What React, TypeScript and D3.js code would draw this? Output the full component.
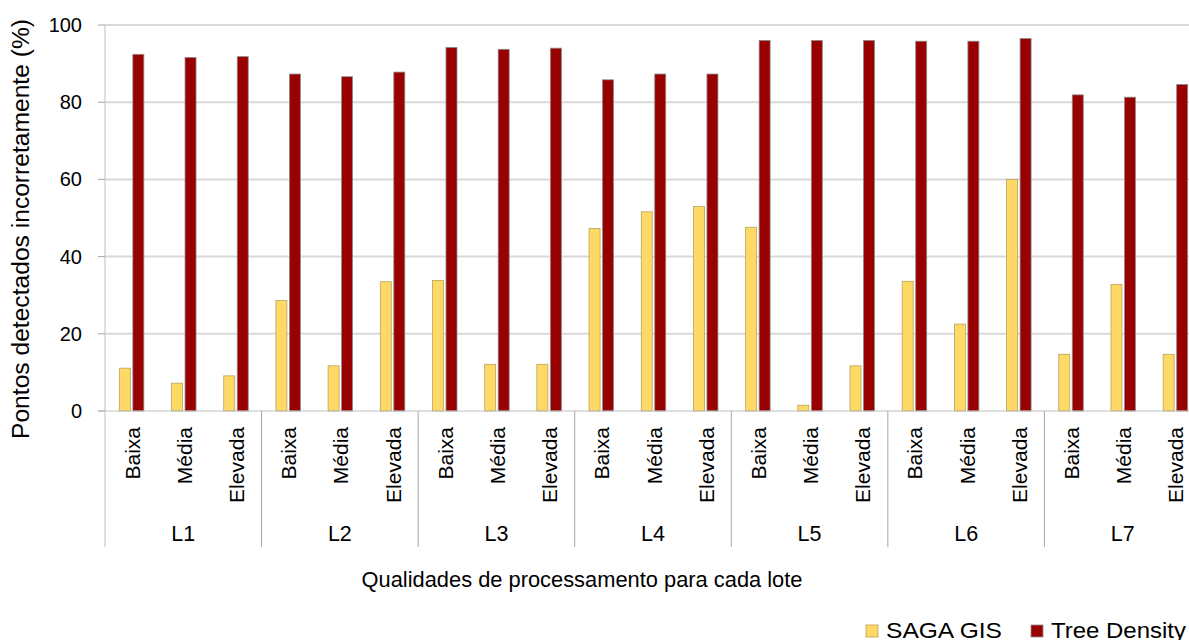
import React from "react";
import * as d3 from "d3";

const lots = ["L1", "L2", "L3", "L4", "L5", "L6", "L7"];
const qualities = ["Baixa", "Média", "Elevada"];
const sagaValues = [11.1, 7.2, 9.1, 28.6, 11.7, 33.5, 33.8, 12.1, 12.1, 47.3, 51.6, 53.0, 47.6, 1.5, 11.7, 33.6, 22.5, 60.0, 14.7, 32.8, 14.7];
const treeValues = [92.4, 91.6, 91.8, 87.3, 86.6, 87.8, 94.2, 93.7, 94.0, 85.8, 87.3, 87.3, 96.0, 96.0, 96.0, 95.8, 95.8, 96.5, 81.9, 81.3, 84.6];
const yTicks = [0, 20, 40, 60, 80, 100];
const seriesNames = ["SAGA GIS", "Tree Density"];
const seriesColors = ["#FFD966", "#990000"];
const seriesStrokes = ["#B9A25A", "#8C8C8C"];

const W = 1189;
const H = 640;
const left = 105;
const right = 1201;
const top = 25;
const bottom = 411;
const FONT = "'Liberation Sans', Arial, sans-serif";

export default function App() {
  const cats = lots.flatMap((l) => qualities.map((q) => `${l}|${q}`));
  const x = d3.scaleBand().domain(cats).range([left, right]).paddingInner(0).paddingOuter(0);
  const xg = d3.scaleBand().domain(lots).range([left, right]);
  const y = d3.scaleLinear().domain([0, 100]).range([bottom, top]);
  const barW = 11;
  const gap = 2.5;
  const data = [sagaValues, treeValues];

  return (
    <svg width={W} height={H} style={{ position: "absolute", left: 0, top: 0, background: "#fff" }} fontFamily={FONT}>
      {/* gridlines */}
      {yTicks.map((t) => (
        <g key={t}>
          {t > 0 && <line x1={left} x2={W} y1={y(t)} y2={y(t)} stroke="#D9D9D9" strokeWidth={2} />}
          <line x1={98} x2={left} y1={y(t)} y2={y(t)} stroke="#A6A6A6" strokeWidth={1} />
          <text x={82} y={y(t)} dy="0.35em" textAnchor="end" fontSize={20} fill="#000">{t}</text>
        </g>
      ))}
      {/* bars */}
      {cats.map((c, i) => {
        const cx = (x(c) as number) + x.bandwidth() / 2 + 0.5;
        return (
          <g key={c}>
            {data.map((vals, s) => {
              const bx = s === 0 ? cx - gap / 2 - barW : cx + gap / 2;
              return (
                <rect key={s} x={bx} y={y(vals[i])} width={barW} height={bottom - y(vals[i])}
                  fill={seriesColors[s]} stroke={seriesStrokes[s]} strokeWidth={0.8} />
              );
            })}
          </g>
        );
      })}
      {/* axes */}
      <line x1={left} x2={left} y1={top} y2={547} stroke="#BFBFBF" strokeWidth={1} />
      <line x1={98} x2={W} y1={bottom} y2={bottom} stroke="#BFBFBF" strokeWidth={1} />
      {lots.map((l, gi) => {
        const gx = (xg(l) as number) + xg.bandwidth();
        return (
          <g key={l}>
            {gi < lots.length - 1 && <line x1={gx} x2={gx} y1={bottom} y2={547} stroke="#A6A6A6" strokeWidth={1} />}
            <text x={(xg(l) as number) + xg.bandwidth() / 2} y={541} textAnchor="middle" fontSize={21.5} fill="#000">{l}</text>
          </g>
        );
      })}
      {cats.map((c) => {
        const cx = (x(c) as number) + x.bandwidth() / 2 + 0.5;
        const q = c.split("|")[1];
        return (
          <text key={c} transform={`translate(${cx + 8},427) rotate(-90)`} textAnchor="end" fontSize={21} fill="#000">{q}</text>
        );
      })}
      {/* axis titles */}
      <text transform={`translate(29,229) rotate(-90)`} textAnchor="middle" fontSize={23} textLength={420} lengthAdjust="spacingAndGlyphs" fill="#000">Pontos detectados incorretamente (%)</text>
      <text x={582} y={587} textAnchor="middle" fontSize={22} textLength={441} lengthAdjust="spacingAndGlyphs" fill="#000">Qualidades de processamento para cada lote</text>
      {/* legend */}
      {seriesNames.map((n, i) => {
        const lx = i === 0 ? 866 : 1031;
        const tl = i === 0 ? 116 : 135;
        return (
          <g key={n}>
            <rect x={lx} y={625} width={12} height={12} fill={seriesColors[i]} stroke={seriesStrokes[i]} strokeWidth={0.8} />
            <text x={lx + 20} y={638} fontSize={22} textLength={tl} lengthAdjust="spacingAndGlyphs" fill="#000">{n}</text>
          </g>
        );
      })}
    </svg>
  );
}
